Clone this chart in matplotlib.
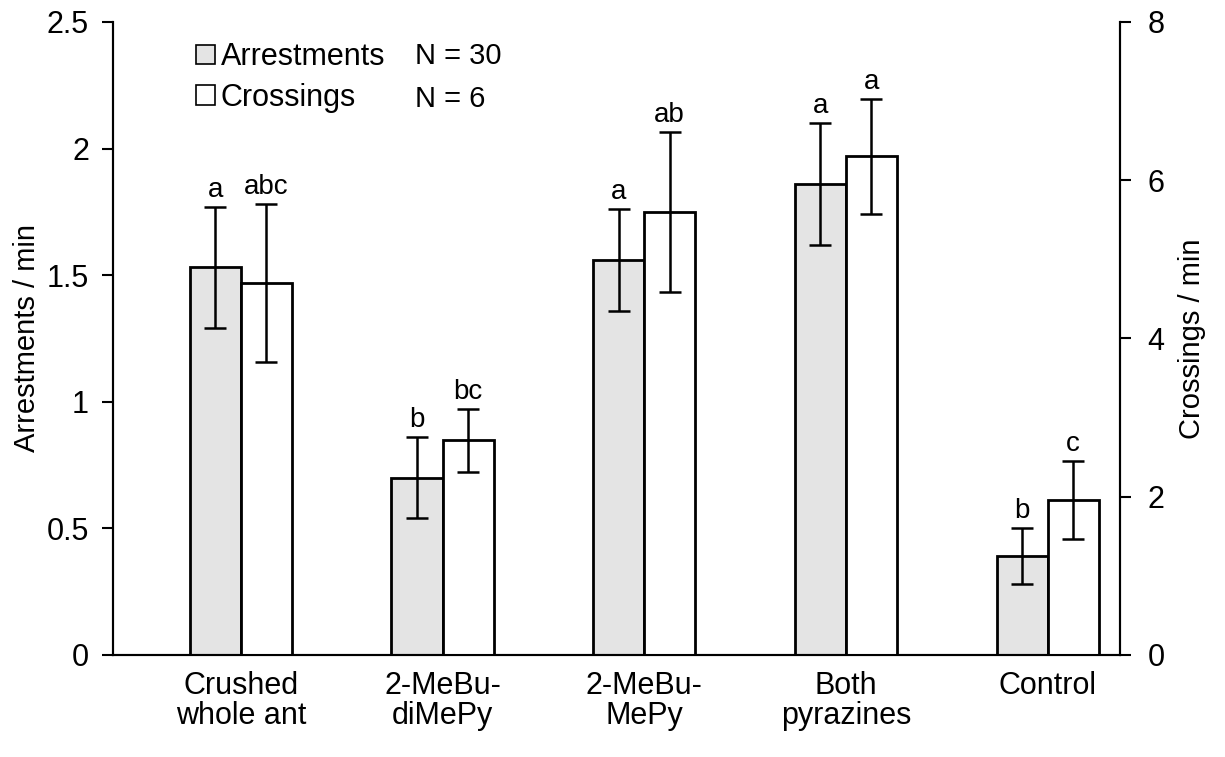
import numpy as np
import matplotlib
matplotlib.use("Agg")
import matplotlib.pyplot as plt
from matplotlib.patches import Patch
from matplotlib.ticker import FormatStrFormatter

plt.rcParams['font.family'] = ['Liberation Sans', 'DejaVu Sans']

# data
categories = ["Crushed\nwhole ant", "2-MeBu-\ndiMePy", "2-MeBu-\nMePy", "Both\npyrazines", "Control"]
arrest_mean = [1.53, 0.70, 1.56, 1.86, 0.39]
arrest_err = [0.24, 0.16, 0.20, 0.24, 0.11]
arrest_letters = ["a", "b", "a", "a", "b"]
cross_mean = [4.70, 2.71, 5.60, 6.30, 1.96]
cross_err = [1.00, 0.40, 1.01, 0.73, 0.49]
cross_letters = ["abc", "bc", "ab", "a", "c"]
left_ticks = [0, 0.5, 1, 1.5, 2, 2.5]
right_ticks = [0, 2, 4, 6, 8]

fig = plt.figure(figsize=(12.25, 7.57), dpi=100)
ax = fig.add_axes([0.092, 0.135, 0.822, 0.836])
ax2 = ax.twinx()

x = np.arange(len(categories))
w = 0.253
grey = "#e4e4e4"

ax.bar(x - w / 2, arrest_mean, w, color=grey, edgecolor="black", linewidth=2, zorder=2)
ax.errorbar(x - w / 2, arrest_mean, yerr=arrest_err, fmt="none", ecolor="black",
            elinewidth=1.8, capsize=8, capthick=1.8, zorder=3)
ax2.bar(x + w / 2, cross_mean, w, color="white", edgecolor="black", linewidth=2, zorder=2)
ax2.errorbar(x + w / 2, cross_mean, yerr=cross_err, fmt="none", ecolor="black",
             elinewidth=1.8, capsize=8, capthick=1.8, zorder=3)

# significance letters above the error bars
for i in range(len(categories)):
    ax.annotate(arrest_letters[i], (x[i] - w / 2, arrest_mean[i] + arrest_err[i]),
                xytext=(0, 3), textcoords="offset points", ha="center", va="bottom", fontsize=20)
    ax2.annotate(cross_letters[i], (x[i] + w / 2, cross_mean[i] + cross_err[i]),
                 xytext=(0, 3), textcoords="offset points", ha="center", va="bottom", fontsize=20)

ax.set_xlim(-0.635, 4.357)
ax.set_ylim(0, 2.5)
ax2.set_ylim(0, 8)
ax.set_yticks(left_ticks)
ax2.set_yticks(right_ticks)
ax.yaxis.set_major_formatter(FormatStrFormatter("%g"))
ax.set_xticks(x)
ax.set_xticklabels(categories, fontsize=22, linespacing=1.0)
ax.tick_params(axis="x", length=0, pad=12)
ax.tick_params(axis="y", labelsize=22, length=8, width=1.5, direction="out", pad=9)
ax2.tick_params(axis="y", labelsize=22, length=8, width=1.5, direction="out", pad=12)

for a in (ax, ax2):
    a.spines["top"].set_visible(False)
    for s in ("left", "right", "bottom"):
        a.spines[s].set_linewidth(1.5)
ax.set_ylabel("Arrestments / min", fontsize=21, labelpad=4)
ax2.set_ylabel("Crossings / min", fontsize=21, labelpad=10)

handles = [Patch(facecolor=grey, edgecolor="black", linewidth=1.2),
           Patch(facecolor="white", edgecolor="black", linewidth=1.2)]
leg = ax.legend(handles, ["Arrestments", "Crossings"], loc="upper left",
                bbox_to_anchor=(0.065, 0.997), frameon=False, fontsize=22,
                handlelength=0.6, handleheight=0.6, handletextpad=0.2,
                labelspacing=0.35, borderaxespad=0.2)
ax.text(0.30, 0.946, "N = 30", transform=ax.transAxes, fontsize=21, va="center")
ax.text(0.30, 0.879, "N = 6", transform=ax.transAxes, fontsize=21, va="center")

fig.savefig("out.png", dpi=100)
